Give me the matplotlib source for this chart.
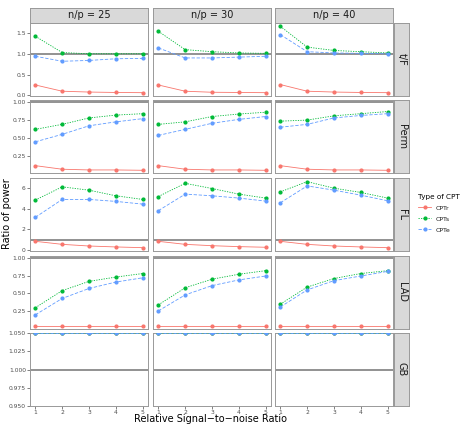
import matplotlib
matplotlib.use("Agg")
import matplotlib.pyplot as plt
from matplotlib.lines import Line2D

# x values and facet labels
snr = [1, 2, 3, 4, 5]
np_labels = ["n/p = 25", "n/p = 30", "n/p = 40"]
tests = ["t/F", "Perm", "FL", "LAD", "GB"]
methods = ["CPTr", "CPTs", "CPTe"]

# ratio of power, one list per n/p column
tf_cptr = [[0.25, 0.10, 0.08, 0.07, 0.065], [0.25, 0.10, 0.075, 0.07, 0.065], [0.26, 0.10, 0.08, 0.07, 0.065]]
tf_cpts = [[1.42, 1.03, 1.00, 1.00, 1.00], [1.54, 1.10, 1.05, 1.02, 1.01], [1.66, 1.16, 1.08, 1.05, 1.02]]
tf_cpte = [[0.94, 0.82, 0.84, 0.88, 0.89], [1.14, 0.90, 0.90, 0.92, 0.94], [1.46, 1.05, 1.02, 1.01, 1.00]]

perm_cptr = [[0.11, 0.06, 0.05, 0.05, 0.045], [0.11, 0.06, 0.05, 0.05, 0.045], [0.11, 0.06, 0.05, 0.05, 0.045]]
perm_cpts = [[0.62, 0.69, 0.78, 0.82, 0.84], [0.69, 0.725, 0.80, 0.835, 0.86], [0.735, 0.75, 0.81, 0.84, 0.87]]
perm_cpte = [[0.445, 0.55, 0.67, 0.725, 0.77], [0.535, 0.62, 0.705, 0.76, 0.80], [0.65, 0.69, 0.78, 0.815, 0.84]]

fl_cptr = [[0.86, 0.57, 0.41, 0.32, 0.25], [0.86, 0.57, 0.44, 0.35, 0.29], [0.86, 0.57, 0.41, 0.32, 0.25]]
fl_cpts = [[4.83, 6.10, 5.78, 5.24, 4.89], [5.17, 6.44, 5.94, 5.40, 5.02], [5.62, 6.60, 5.97, 5.56, 5.02]]
fl_cpte = [[3.17, 4.89, 4.89, 4.70, 4.44], [3.81, 5.40, 5.24, 5.02, 4.73], [4.57, 6.19, 5.78, 5.30, 4.76]]

lad_cptr = [[0.05, 0.05, 0.05, 0.05, 0.05], [0.05, 0.05, 0.05, 0.05, 0.05], [0.05, 0.05, 0.05, 0.05, 0.05]]
lad_cpts = [[0.30, 0.54, 0.67, 0.73, 0.78], [0.34, 0.58, 0.70, 0.77, 0.82], [0.35, 0.59, 0.71, 0.78, 0.82]]
lad_cpte = [[0.20, 0.43, 0.57, 0.66, 0.72], [0.255, 0.48, 0.61, 0.69, 0.745], [0.31, 0.55, 0.68, 0.745, 0.81]]

gb_cptr = [[1.05] * 5, [1.05] * 5, [1.05] * 5]
gb_cpts = [[1.05] * 5, [1.05] * 5, [1.05] * 5]
gb_cpte = [[1.05] * 5, [1.05] * 5, [1.05] * 5]

row_data = [
    (tf_cptr, tf_cpts, tf_cpte),
    (perm_cptr, perm_cpts, perm_cpte),
    (fl_cptr, fl_cpts, fl_cpte),
    (lad_cptr, lad_cpts, lad_cpte),
    (gb_cptr, gb_cpts, gb_cpte),
]
row_ylim = [(-0.015, 1.74), (0.0, 1.025), (-0.07, 6.95), (0.008, 1.033), (0.95, 1.05)]
row_ticks = [
    ([0.0, 0.5, 1.0, 1.5], ["0.0", "0.5", "1.0", "1.5"]),
    ([0.25, 0.5, 0.75, 1.0], ["0.25", "0.50", "0.75", "1.00"]),
    ([0, 2, 4, 6], ["0", "2", "4", "6"]),
    ([0.25, 0.5, 0.75, 1.0], ["0.25", "0.50", "0.75", "1.00"]),
    ([0.95, 0.975, 1.0, 1.025, 1.05], ["0.950", "0.975", "1.000", "1.025", "1.050"]),
]

colors = ["#F8766D", "#00BA38", "#619CFF"]
styles = ["-", (0, (1.5, 1.5)), (0, (4, 2))]

W, H = 461, 426
fig = plt.figure(figsize=(W / 100, H / 100), dpi=100)

col_x = [30, 153, 275]
col_w = 118
row_top = [23, 100.5, 178, 255.5, 333]
row_h = 73
border = "#999999"
tick_col = "#4D4D4D"

def px_rect(x, top, w, h):
    return [x / W, 1 - (top + h) / H, w / W, h / H]

for r in range(5):
    for c in range(3):
        ax = fig.add_axes(px_rect(col_x[c], row_top[r], col_w, row_h))
        ax.axhline(1, color="#7F7F7F", lw=1.2, zorder=1)
        for m in range(3):
            ax.plot(snr, row_data[r][m][c], color=colors[m], ls=styles[m], lw=0.6,
                    marker="o", ms=2.0, zorder=2 + m)
        ax.set_xlim(0.8, 5.2)
        ax.set_ylim(*row_ylim[r])
        ax.set_xticks(snr)
        ticks, labels = row_ticks[r]
        ax.set_yticks(ticks)
        ax.tick_params(length=2, width=0.5, color=tick_col, labelsize=4.3,
                       labelcolor=tick_col, pad=1)
        if c == 0:
            ax.set_yticklabels(labels)
        else:
            ax.set_yticklabels([])
            ax.tick_params(axis="y", length=0)
        if r < 4:
            ax.set_xticklabels([])
            ax.tick_params(axis="x", length=0)
        for s in ax.spines.values():
            s.set_color(border)
            s.set_linewidth(0.7)

        # top strips
        if r == 0:
            sax = fig.add_axes(px_rect(col_x[c], 8, col_w, 15))
            sax.set_facecolor("#D9D9D9")
            sax.set_xticks([])
            sax.set_yticks([])
            for s in sax.spines.values():
                s.set_color(border)
                s.set_linewidth(0.7)
            sax.text(0.5, 0.5, np_labels[c], ha="center", va="center",
                     fontsize=7, color="#1A1A1A", transform=sax.transAxes)
        # right strips
        if c == 2:
            sax = fig.add_axes(px_rect(394, row_top[r], 15, row_h))
            sax.set_facecolor("#D9D9D9")
            sax.set_xticks([])
            sax.set_yticks([])
            for s in sax.spines.values():
                s.set_color(border)
                s.set_linewidth(0.7)
            sax.text(0.5, 0.5, tests[r], ha="center", va="center", rotation=-90,
                     fontsize=7, color="#1A1A1A", transform=sax.transAxes)

fig.text(211 / W, 1 - 419 / H, "Relative Signal\u2212to\u2212noise Ratio",
         ha="center", va="center", fontsize=7)
fig.text(7 / W, 1 - 214 / H, "Ratio of power", ha="center", va="center",
         rotation=90, fontsize=7)

handles = [Line2D([0], [0], color=colors[m], ls=styles[m], lw=0.6, marker="o", ms=2.0)
           for m in range(3)]
leg = fig.legend(handles, methods, title="Type of CPT", loc="upper left",
                 bbox_to_anchor=(412 / W, 1 - 188 / H), frameon=False,
                 fontsize=4.5, title_fontsize=5.2, handlelength=2.2,
                 labelspacing=0.9, handletextpad=0.6)
leg._legend_box.align = "left"
for t in leg.get_texts():
    t.set_color("#1A1A1A")

fig.savefig("out.png", dpi=100)
